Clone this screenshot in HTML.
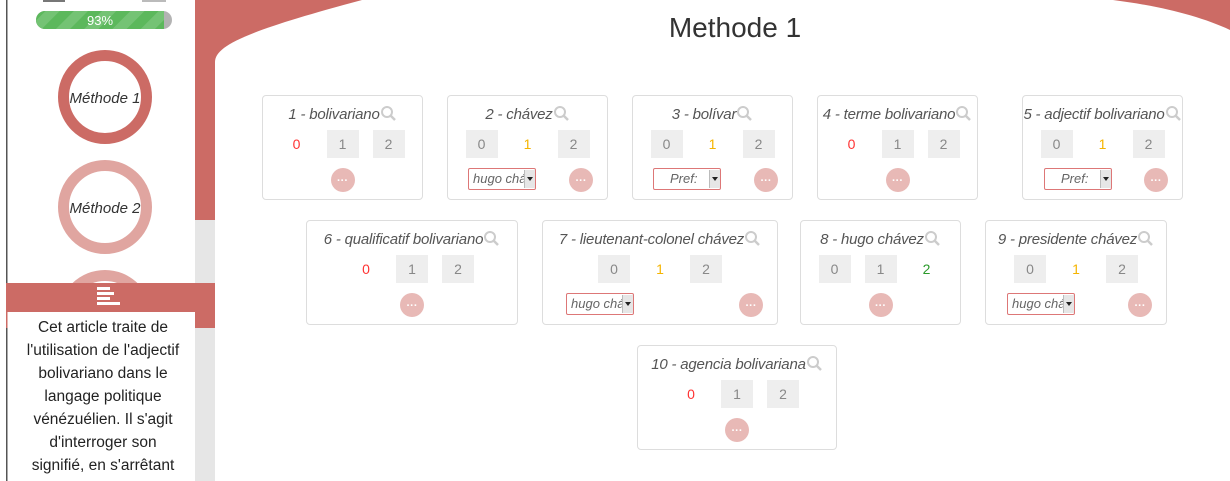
<!DOCTYPE html>
<html><head><meta charset="utf-8">
<style>
*{box-sizing:border-box;margin:0;padding:0}
body{width:1230px;height:481px;overflow:hidden;background:#fff;font-family:"Liberation Sans",sans-serif;position:relative}
.abs{position:absolute}
.card{position:absolute;height:105px;border:1px solid #ddd;border-radius:4px;background:#fff}
.t{position:absolute;top:9px;left:0;right:0;text-align:center;font-style:italic;font-size:15px;line-height:20px;color:#555;white-space:nowrap;letter-spacing:-0.2px}
.t svg{vertical-align:-2px}
.b{position:absolute;top:34px;left:0;right:0;display:flex;justify-content:center;gap:14px}
.b span{width:32px;height:28px;line-height:28px;text-align:center;font-size:14px;color:#888;background:#eee}
.b span.r{background:none;color:#f33}
.b span.o{background:none;color:#f5b400}
.b span.g{background:none;color:#2a9a2a}
.sel{position:absolute;left:20px;top:72px;width:68px;height:22px;border:1px solid #d77;border-radius:2px;font-style:italic;font-size:13px;color:#666;line-height:20px;padding-left:4px;overflow:hidden;white-space:nowrap;background:#fff}
.sel i{position:absolute;right:0;top:1px;width:11px;height:18px;background:#e6e6e6;border-left:1px solid #bbb}
.sel i:after{content:"";position:absolute;left:2px;top:7px;border:3px solid transparent;border-top:4px solid #222}
.d{position:absolute;top:72px;width:24px;height:24px;border-radius:50%;background:#e8b9b6;color:#fff;font-size:11px;line-height:26px;text-align:center;font-weight:bold}
.dc{left:50%;margin-left:-12px}
.dr{right:14px}
</style></head><body>
<svg class="abs" style="left:0;top:0" width="1230" height="481">
<rect x="195" y="0" width="1035" height="220" fill="#cc6b65"/>
<rect x="195" y="220" width="20" height="261" fill="#e6e6e6"/>
<path d="M215 481 V62 C215 45 250 30 362 0 H1113 C1160 6 1200 16 1230 30 V481 Z" fill="#fff"/>
<rect x="6" y="0" width="1.5" height="481" fill="#555"/>
<rect x="7.5" y="0" width="187.5" height="481" fill="#fff"/>
<rect x="43" y="0" width="22" height="2" fill="#777"/>
<rect x="142" y="0" width="24" height="2" fill="#bbb"/>
<defs><pattern id="st" width="20" height="20" patternUnits="userSpaceOnUse" patternTransform="rotate(45)"><rect width="10" height="20" fill="#74c374"/></pattern>
<clipPath id="pc"><rect x="36" y="11" width="136" height="18" rx="9"/></clipPath></defs>
<g clip-path="url(#pc)"><rect x="36" y="11" width="136" height="18" fill="#b3b3b3"/><rect x="36" y="11" width="128" height="18" fill="#5cb85c"/><rect x="36" y="11" width="128" height="18" fill="url(#st)"/></g>
<text x="100" y="25" font-size="13" fill="#fff" text-anchor="middle" font-family="Liberation Sans">93%</text>
<circle cx="105" cy="97" r="41.5" fill="none" stroke="#cc6b65" stroke-width="11"/>
<circle cx="105" cy="207" r="41.5" fill="none" stroke="#e0a5a0" stroke-width="11"/>
<circle cx="105" cy="317" r="41.5" fill="none" stroke="#e0a5a0" stroke-width="11"/>
<text x="105" y="103" font-size="15" font-style="italic" fill="#333" text-anchor="middle" font-family="Liberation Sans">Méthode 1</text>
<text x="105" y="213" font-size="15" font-style="italic" fill="#333" text-anchor="middle" font-family="Liberation Sans">Méthode 2</text>
<rect x="6" y="283" width="209" height="45" fill="#cc6b65"/>
<rect x="97" y="287" width="13" height="3" fill="#fff"/>
<rect x="97" y="292" width="17" height="3" fill="#fff"/>
<rect x="97" y="297" width="13" height="3" fill="#fff"/>
<rect x="97" y="302" width="23" height="3" fill="#fff"/>
<rect x="7.5" y="312" width="187.5" height="169" fill="#fff"/>
</svg>
<div class="abs" style="left:24px;top:316px;width:158px;text-align:center;font-size:15.5px;line-height:23px;color:#222">Cet article traite de l'utilisation de l'adjectif bolivariano dans le langage politique vénézuélien. Il s'agit d'interroger son signifié, en s'arrêtant</div>
<div class="abs" style="left:215px;top:10px;width:1040px;text-align:center;font-size:28px;color:#333;line-height:36px">Methode 1</div>

<div class="card" style="left:262px;top:95px;width:161px"><div class="t">1 - bolivariano<svg width="17" height="16"><circle cx="7" cy="7" r="5" fill="none" stroke="#ccc" stroke-width="2"/><path d="M11 11 L15 15" stroke="#ccc" stroke-width="2.5"/></svg></div><div class="b"><span class="r">0</span><span>1</span><span>2</span></div><div class="d dc">···</div></div>

<div class="card" style="left:447px;top:95px;width:161px"><div class="t">2 - chávez<svg width="17" height="16"><circle cx="7" cy="7" r="5" fill="none" stroke="#ccc" stroke-width="2"/><path d="M11 11 L15 15" stroke="#ccc" stroke-width="2.5"/></svg></div><div class="b"><span>0</span><span class="o">1</span><span>2</span></div><div class="sel">hugo chávez<i></i></div><div class="d dr">···</div></div>

<div class="card" style="left:632px;top:95px;width:161px"><div class="t">3 - bolívar<svg width="17" height="16"><circle cx="7" cy="7" r="5" fill="none" stroke="#ccc" stroke-width="2"/><path d="M11 11 L15 15" stroke="#ccc" stroke-width="2.5"/></svg></div><div class="b"><span>0</span><span class="o">1</span><span>2</span></div><div class="sel" style="padding-left:16px">Pref:<i></i></div><div class="d dr">···</div></div>

<div class="card" style="left:817px;top:95px;width:161px"><div class="t">4 - terme bolivariano<svg width="17" height="16"><circle cx="7" cy="7" r="5" fill="none" stroke="#ccc" stroke-width="2"/><path d="M11 11 L15 15" stroke="#ccc" stroke-width="2.5"/></svg></div><div class="b"><span class="r">0</span><span>1</span><span>2</span></div><div class="d dc">···</div></div>

<div class="card" style="left:1022px;top:95px;width:161px"><div class="t">5 - adjectif bolivariano<svg width="17" height="16"><circle cx="7" cy="7" r="5" fill="none" stroke="#ccc" stroke-width="2"/><path d="M11 11 L15 15" stroke="#ccc" stroke-width="2.5"/></svg></div><div class="b"><span>0</span><span class="o">1</span><span>2</span></div><div class="sel" style="padding-left:16px;left:21px">Pref:<i></i></div><div class="d dr">···</div></div>

<div class="card" style="left:306px;top:220px;width:212px"><div class="t">6 - qualificatif bolivariano<svg width="17" height="16"><circle cx="7" cy="7" r="5" fill="none" stroke="#ccc" stroke-width="2"/><path d="M11 11 L15 15" stroke="#ccc" stroke-width="2.5"/></svg></div><div class="b"><span class="r">0</span><span>1</span><span>2</span></div><div class="d dc">···</div></div>

<div class="card" style="left:542px;top:220px;width:236px"><div class="t">7 - lieutenant-colonel chávez<svg width="17" height="16"><circle cx="7" cy="7" r="5" fill="none" stroke="#ccc" stroke-width="2"/><path d="M11 11 L15 15" stroke="#ccc" stroke-width="2.5"/></svg></div><div class="b"><span>0</span><span class="o">1</span><span>2</span></div><div class="sel" style="left:23px">hugo chávez<i></i></div><div class="d dr">···</div></div>

<div class="card" style="left:800px;top:220px;width:161px"><div class="t">8 - hugo chávez<svg width="17" height="16"><circle cx="7" cy="7" r="5" fill="none" stroke="#ccc" stroke-width="2"/><path d="M11 11 L15 15" stroke="#ccc" stroke-width="2.5"/></svg></div><div class="b"><span>0</span><span>1</span><span class="g">2</span></div><div class="d dc">···</div></div>

<div class="card" style="left:985px;top:220px;width:182px"><div class="t">9 - presidente chávez<svg width="17" height="16"><circle cx="7" cy="7" r="5" fill="none" stroke="#ccc" stroke-width="2"/><path d="M11 11 L15 15" stroke="#ccc" stroke-width="2.5"/></svg></div><div class="b"><span>0</span><span class="o">1</span><span>2</span></div><div class="sel" style="left:21px">hugo chávez<i></i></div><div class="d dr">···</div></div>

<div class="card" style="left:637px;top:345px;width:200px"><div class="t">10 - agencia bolivariana<svg width="17" height="16"><circle cx="7" cy="7" r="5" fill="none" stroke="#ccc" stroke-width="2"/><path d="M11 11 L15 15" stroke="#ccc" stroke-width="2.5"/></svg></div><div class="b"><span class="r">0</span><span>1</span><span>2</span></div><div class="d dc">···</div></div>
</body></html>
